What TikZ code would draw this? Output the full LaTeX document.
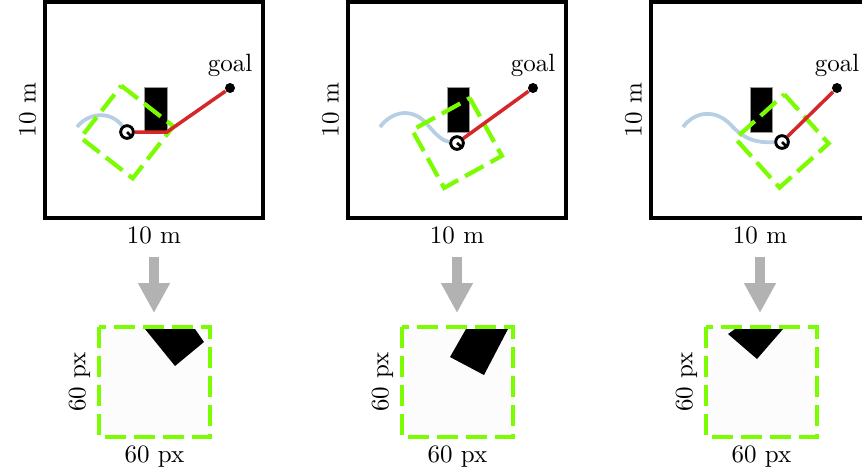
\documentclass[tikz,border=0pt]{standalone}
\usepackage{amsmath}
\usepackage{tikz}
\usetikzlibrary{arrows.meta, calc, positioning}

\definecolor{cropgreen}{RGB}{124,252,0}
\definecolor{planred}{RGB}{214,39,40}
\definecolor{trailblue}{RGB}{182,207,228}

\begin{document}
\begin{tikzpicture}[x=0.4pt, y=-0.4pt,
  mapframe/.style={line width=1.6pt},
  cropbox/.style={draw=cropgreen, line width=1.7pt, dash pattern=on 8.4pt off 3.2pt},
  trail/.style={trailblue, line width=1.5pt},
  plan/.style={planred, line width=1.4pt},
  robot/.style={circle, draw, fill=white, line width=1.1pt, minimum size=5pt, inner sep=0pt},
  goalpt/.style={circle, fill, minimum size=4pt, inner sep=0pt},
  obstacle/.style={fill=black, draw=black!40, line width=0.3pt},
  downarrow/.style={black!30, line width=4pt, -{Triangle[width=12pt,length=12pt]}}]
\useasboundingbox (0,0) rectangle (862,474);
\clip (0,0) rectangle (862,474);

% ---------- Panel 1 ----------
% Global map
\coordinate (M1a) at (45,2);
\coordinate (M1b) at (263,218);
\draw[mapframe] (M1a) rectangle (M1b);
\node[below] at ($(M1a |- M1b)!0.5!(M1b)$) {10 m};
\node[rotate=90, above] at ($(M1a)!0.5!(M1a |- M1b)$) {10 m};

% Obstacle, trail and crop window
\draw[obstacle] (144,87) rectangle (167,131);
\node[goalpt, label={[inner sep=2pt]above:goal}] (goal1) at (230,88) {};
\node[robot] (robot1) at (127,132) {};
\draw[trail] (77,127) .. controls (88,113) and (110,110) .. (robot1);
\begin{scope}[shift={(127,132)}, rotate=-38]
\draw[cropbox] (-33,-33) -- (33,-33) -- (33,33) -- (-33,33) -- cycle;
\end{scope}
\coordinate (bend1) at (167,132);
\draw[plan] (robot1) -- (bend1) -- (goal1);
\node[robot] at (robot1) {};
\draw[line width=1.1pt] (robot1.center) -- (robot1.-45);

% Arrow down to the local map
\coordinate (A1top) at (154,257);
\coordinate (A1tip) at (154,313);
\draw[downarrow] (A1top) -- (A1tip);

% Local map
\coordinate (L1a) at (99,327);
\coordinate (L1b) at (210,437);
\fill[black!1] (L1a) rectangle (L1b);
\fill (145,329) -- (195,329) -- (204,342) -- (175,366) -- cycle;
\draw[cropbox] (L1a) rectangle (L1b);
\node[below] at ($(L1a |- L1b)!0.5!(L1b)$) {60 px};
\node[rotate=90, above] at ($(L1a)!0.5!(L1a |- L1b)$) {60 px};

% ---------- Panel 2 ----------
\begin{scope}[shift={(303,0)}]
% Global map
\coordinate (M2a) at (45,2);
\coordinate (M2b) at (263,218);
\draw[mapframe] (M2a) rectangle (M2b);
\node[below] at ($(M2a |- M2b)!0.5!(M2b)$) {10 m};
\node[rotate=90, above] at ($(M2a)!0.5!(M2a |- M2b)$) {10 m};

% Obstacle, trail and crop window
\draw[obstacle] (144,87) rectangle (166,132);
\node[goalpt, label={[inner sep=2pt]above:goal}] (goal2) at (230,88) {};
\node[robot] (robot2) at (154,143) {};
\draw[trail] (77,127) .. controls (90,110) and (110,108) .. (124,124)
  .. controls (134,136) and (140,141) .. (robot2);
\begin{scope}[shift={(154,143)}, rotate=-61]
\draw[cropbox] (-33,-33) -- (33,-33) -- (33,33) -- (-33,33) -- cycle;
\end{scope}
\draw[plan] (robot2) -- (goal2);
\node[robot] at (robot2) {};
\draw[line width=1.1pt] (robot2.center) -- (robot2.-40);

% Arrow down to the local map
\coordinate (A2top) at (154,257);
\coordinate (A2tip) at (154,313);
\draw[downarrow] (A2top) -- (A2tip);

% Local map
\coordinate (L2a) at (99,327);
\coordinate (L2b) at (210,437);
\fill[black!1] (L2a) rectangle (L2b);
\fill (163,329) -- (205,329) -- (181,375) -- (147,357) -- cycle;
\draw[cropbox] (L2a) rectangle (L2b);
\node[below] at ($(L2a |- L2b)!0.5!(L2b)$) {60 px};
\node[rotate=90, above] at ($(L2a)!0.5!(L2a |- L2b)$) {60 px};
\end{scope}

% ---------- Panel 3 ----------
\begin{scope}[shift={(606,0)}]
% Global map
\coordinate (M3a) at (45,2);
\coordinate (M3b) at (263,218);
\draw[mapframe] (M3a) rectangle (M3b);
\node[below] at ($(M3a |- M3b)!0.5!(M3b)$) {10 m};
\node[rotate=90, above] at ($(M3a)!0.5!(M3a |- M3b)$) {10 m};

% Obstacle, trail and crop window
\draw[obstacle] (144,87) rectangle (166,132);
\node[goalpt, label={[inner sep=2pt]above:goal}] (goal3) at (231,88) {};
\node[robot] (robot3) at (176,142) {};
\draw[trail] (77,127) .. controls (90,110) and (110,110) .. (124,124)
  .. controls (136,137) and (146,143) .. (robot3);
\begin{scope}[shift={(176,141)}, rotate=-48]
\draw[cropbox] (-33,-33) -- (33,-33) -- (33,33) -- (-33,33) -- cycle;
\end{scope}
\draw[plan] (robot3) -- (goal3);
\node[robot] at (robot3) {};
\draw[line width=1.1pt] (robot3.center) -- (robot3.-45);

% Arrow down to the local map
\coordinate (A3top) at (154,257);
\coordinate (A3tip) at (154,313);
\draw[downarrow] (A3top) -- (A3tip);

% Local map
\coordinate (L3a) at (100,327);
\coordinate (L3b) at (211,437);
\fill[black!1] (L3a) rectangle (L3b);
\fill (122,334) -- (129,329) -- (177,329) -- (151,359) -- cycle;
\draw[cropbox] (L3a) rectangle (L3b);
\node[below] at ($(L3a |- L3b)!0.5!(L3b)$) {60 px};
\node[rotate=90, above] at ($(L3a)!0.5!(L3a |- L3b)$) {60 px};
\end{scope}
\end{tikzpicture}
\end{document}
